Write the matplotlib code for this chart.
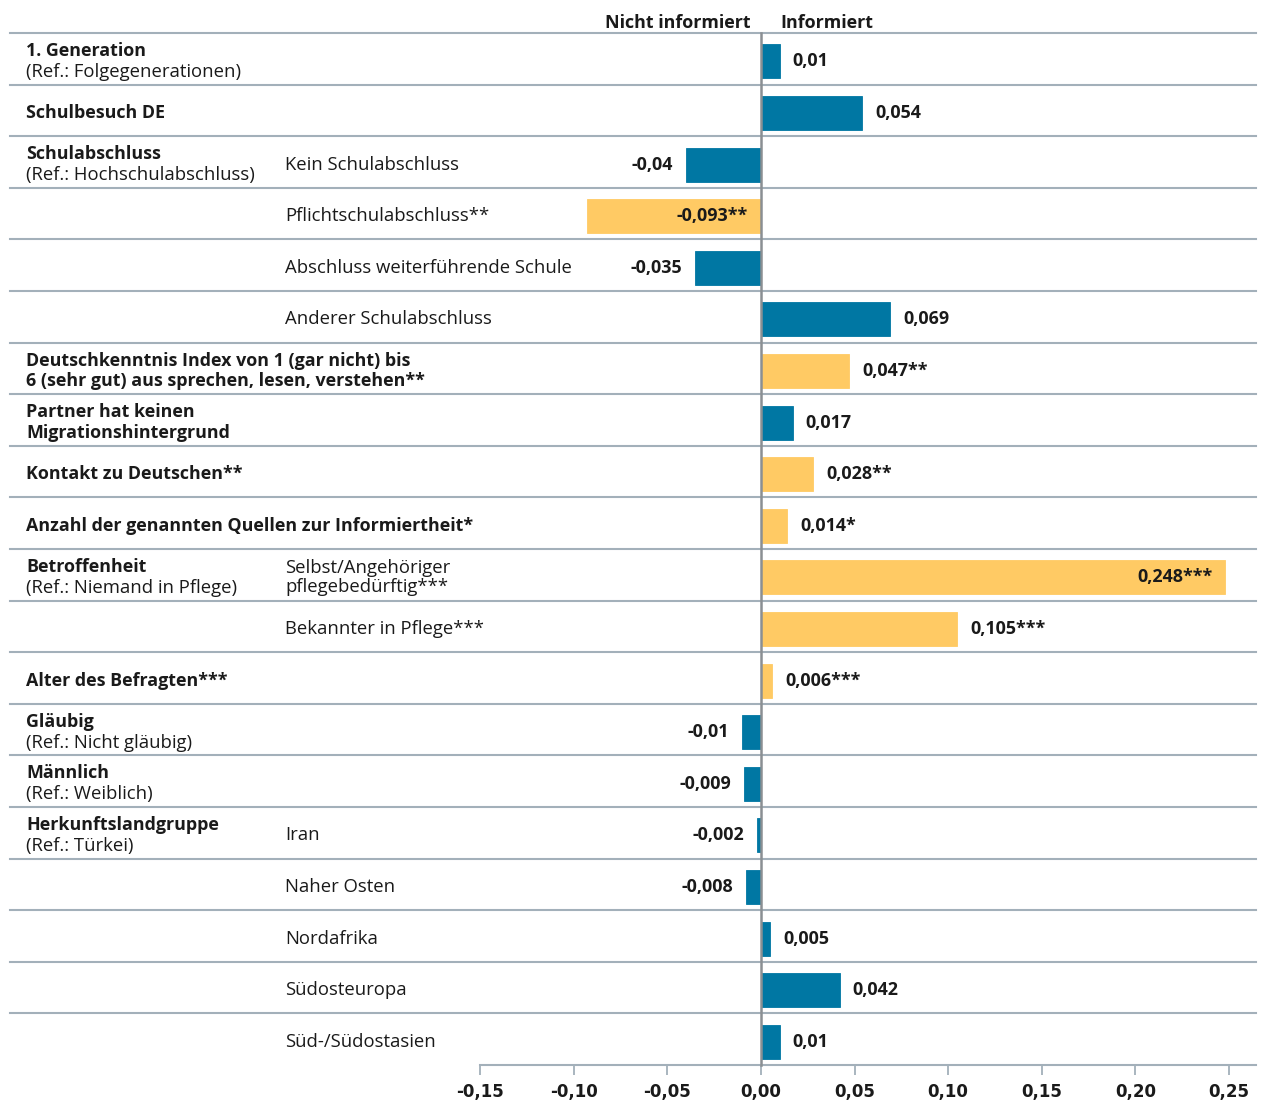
import matplotlib.pyplot as plt

# Data
titles = ["1. Generation", "Schulbesuch DE", "Schulabschluss", "", "", "",
          "Deutschkenntnis Index von 1 (gar nicht) bis",
          "Partner hat keinen", "Kontakt zu Deutschen**",
          "Anzahl der genannten Quellen zur Informiertheit*",
          "Betroffenheit", "", "Alter des Befragten***", "Gläubig", "Männlich",
          "Herkunftslandgruppe", "", "", "", ""]
title_second = ["(Ref.: Folgegenerationen)", "", "(Ref.: Hochschulabschluss)", "", "", "",
                "6 (sehr gut) aus sprechen, lesen, verstehen**",
                "Migrationshintergrund", "", "",
                "(Ref.: Niemand in Pflege)", "", "", "(Ref.: Nicht gläubig)",
                "(Ref.: Weiblich)", "(Ref.: Türkei)", "", "", "", ""]
second_bold = [False, False, False, False, False, False, True, True, False, False,
               False, False, False, False, False, False, False, False, False, False]
sub_labels = ["", "", "Kein Schulabschluss", "Pflichtschulabschluss**",
              "Abschluss weiterführende Schule", "Anderer Schulabschluss",
              "", "", "", "", "Selbst/Angehöriger\npflegebedürftig***",
              "Bekannter in Pflege***", "", "", "", "Iran", "Naher Osten",
              "Nordafrika", "Südosteuropa", "Süd-/Südostasien"]
values = [0.01, 0.054, -0.04, -0.093, -0.035, 0.069, 0.047, 0.017, 0.028, 0.014,
          0.248, 0.105, 0.006, -0.01, -0.009, -0.002, -0.008, 0.005, 0.042, 0.01]
stars = ["", "", "", "**", "", "", "**", "", "**", "*",
         "***", "***", "***", "", "", "", "", "", "", ""]
xticks = [-0.15, -0.10, -0.05, 0.0, 0.05, 0.10, 0.15, 0.20, 0.25]

BLUE = "#0077A3"
YELLOW = "#FFCA64"
LINE = "#A3B0BA"
TXT = "#1a1a1a"
FONT = ["Open Sans", "DejaVu Sans"]
FS_REG = 13.3
FS_BOLD = 12.9

W, H = 1264, 1102
fig = plt.figure(figsize=(W / 100, H / 100), dpi=100)
x0, x1 = 480, 1229
y_top, y_bot = 33, 1065
ax = fig.add_axes([x0 / W, 1 - y_bot / H, (x1 - x0) / W, (y_bot - y_top) / H])
n = len(values)
ax.set_xlim(-0.15, 0.25)
ax.set_ylim(n, 0)
for s in ax.spines.values():
    s.set_visible(False)
ax.set_yticks([])

px = 0.40 / (x1 - x0)  # data units per pixel
dy = 0.05  # content sits a bit below the row centre

def fx(p):
    return (p - x0) / (x1 - x0)

tr = ax.get_yaxis_transform()

# row separators
for i in range(n):
    ax.plot([fx(10), fx(1256)], [i, i], transform=tr,
            color=LINE, lw=1.5, clip_on=False, zorder=1)

# bars + value labels
for i, v in enumerate(values):
    col = YELLOW if stars[i] else BLUE
    yc = i + 0.5 + dy
    ax.barh(yc, v, height=0.66, color=col, edgecolor=col, linewidth=0.6, zorder=2)
    lab = f"{v:g}".replace(".", ",") + stars[i]
    gap = 13 * px
    if v > 0.2:
        x, ha = v - gap, "right"
    elif v < -0.08:
        x, ha = -gap, "right"
    elif v >= 0:
        x, ha = v + gap, "left"
    else:
        x, ha = v - gap, "right"
    ax.text(x, yc, lab, ha=ha, va="center", fontsize=FS_BOLD, color=TXT,
            fontweight="bold", family=FONT, zorder=3)

# zero line
ax.plot([0, 0], [0, n], color="#8A8F93", lw=1.8, zorder=4, clip_on=False)

# row labels
for i in range(n):
    yc = i + 0.5 + dy
    if titles[i] and title_second[i]:
        ax.text(fx(26), yc - 0.2, titles[i], transform=tr, ha="left", va="center",
                fontsize=FS_BOLD, fontweight="bold", family=FONT, color=TXT)
        bold2 = second_bold[i]
        ax.text(fx(26), yc + 0.2, title_second[i], transform=tr, ha="left", va="center",
                fontsize=FS_BOLD if bold2 else FS_REG,
                fontweight="bold" if bold2 else "normal", family=FONT, color=TXT)
    elif titles[i]:
        ax.text(fx(26), yc, titles[i], transform=tr, ha="left", va="center",
                fontsize=FS_BOLD, fontweight="bold", family=FONT, color=TXT)
    if sub_labels[i]:
        ax.text(fx(285), yc, sub_labels[i], transform=tr, ha="left", va="center",
                fontsize=FS_REG, family=FONT, linespacing=1.05, color=TXT)

# header
ax.text(-10 * px, -0.2, "Nicht informiert", ha="right", va="center", fontsize=FS_BOLD,
        fontweight="bold", family=FONT, color=TXT)
ax.text(20 * px, -0.2, "Informiert", ha="left", va="center", fontsize=FS_BOLD,
        fontweight="bold", family=FONT, color=TXT)

# x axis
ax.plot([-0.15, 0.25 + 27 * px], [n, n], color=LINE, lw=1.5, clip_on=False, zorder=1)
ax.set_xticks(xticks)
ax.set_xticklabels([f"{t:.2f}".replace(".", ",") for t in xticks])
ax.tick_params(axis="x", length=7, color=LINE, width=1.3, pad=6, labelcolor=TXT)
for t in ax.get_xticklabels():
    t.set_family(["Liberation Sans Narrow", "DejaVu Sans"])
    t.set_fontweight("bold")
    t.set_fontsize(12)

fig.savefig("out.png", dpi=100)
